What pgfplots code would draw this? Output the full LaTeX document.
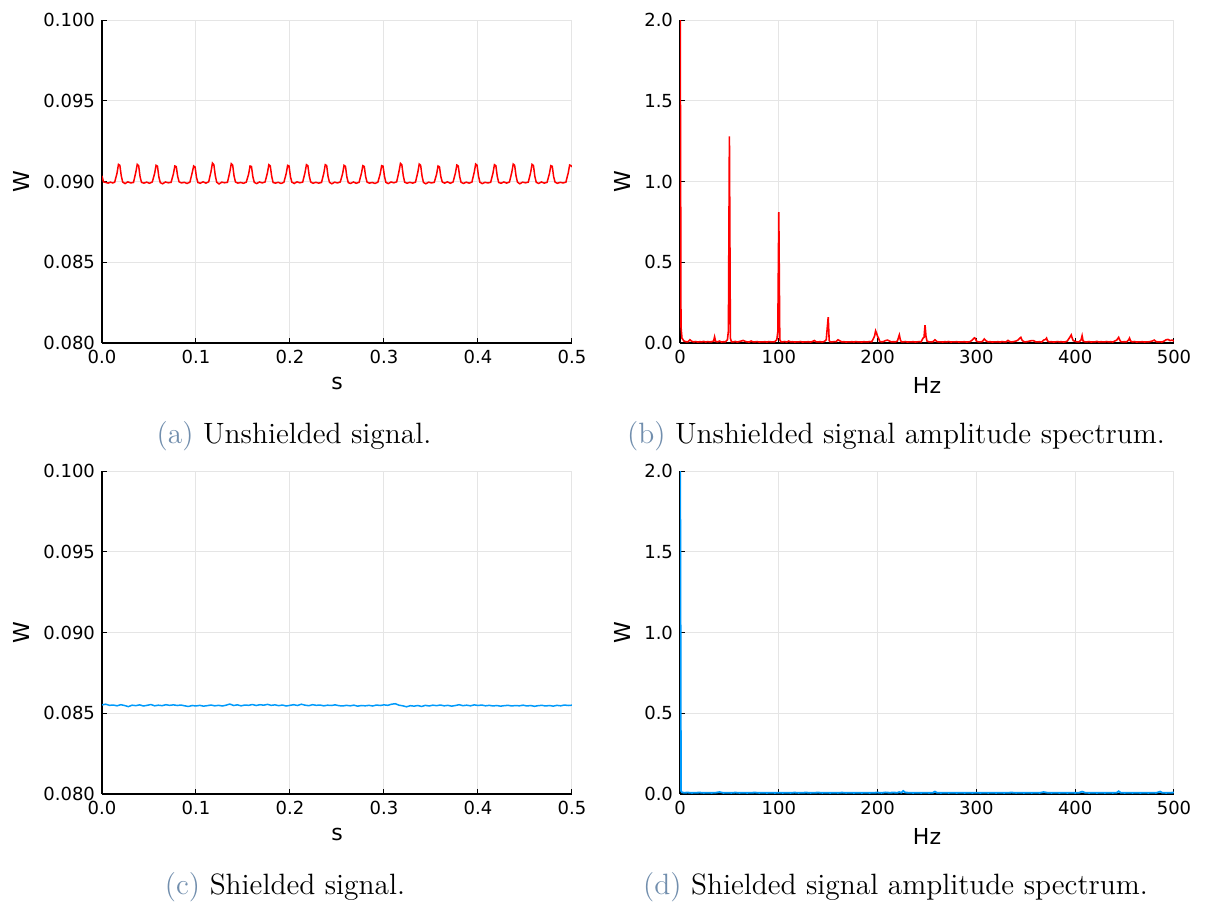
\documentclass[border=0pt]{standalone}
\usepackage{fontspec}
\usepackage{xcolor}
\usepackage{pgfplots}
\pgfplotsset{compat=1.18}
\newfontfamily\dejavu{DejaVu Sans}
\definecolor{grred}{RGB}{255,0,0}
\definecolor{grblue}{RGB}{0,154,250}
\definecolor{capblue}{RGB}{113,142,173}

\pgfplotsset{
  gr/.style={
    scale only axis,
    axis x line*=bottom,
    axis y line*=left,
    axis line style={black,line width=0.6pt,-},
    grid=major,
    grid style={black!10,line width=0.5pt},
    tick align=inside,
    major tick length=2.5pt,
    tick style={black,line width=0.5pt},
    tick label style={font=\dejavu\fontsize{9}{10}\selectfont},
    label style={font=\dejavu\fontsize{11}{12}\selectfont},
    /pgf/number format/assume math mode=true,
    scaled ticks=false,
    clip=true,
  },
  timeax/.style={gr,
    width=235pt, height=161.5pt,
    xmin=0, xmax=0.5, ymin=0.080, ymax=0.100,
    xtick={0,0.1,...,0.5}, ytick={0.080,0.085,0.090,0.095,0.100},
    xticklabel style={/pgf/number format/.cd,fixed,fixed zerofill,precision=1},
    yticklabel style={/pgf/number format/.cd,fixed,fixed zerofill,precision=3},
    xlabel={s}, ylabel={W},
  },
  specax/.style={gr,
    width=247pt, height=161.5pt,
    xmin=0, xmax=500, ymin=0, ymax=2,
    xtick={0,100,...,500}, ytick={0,0.5,1,1.5,2},
    yticklabel style={/pgf/number format/.cd,fixed,fixed zerofill,precision=1},
    xlabel={Hz}, ylabel={W},
  },
}

\begin{document}
\begin{tikzpicture}
\useasboundingbox (0,0) rectangle (602.5pt,451pt);

% (a) unshielded signal
\begin{axis}[timeax, at={(51pt,279.5pt)}, anchor=south west]
\addplot[grred, line width=0.75pt] coordinates {
(0,0.09035)(0.0015,0.08998)(0.004,0.08994)(0.0065,0.08990)(0.009,0.08996)(0.0115,0.08991)
(0.0135,0.08996)(0.016,0.09052)(0.0175,0.09106)(0.019,0.09100)(0.0205,0.09035)(0.022,0.08997)(0.0245,0.08987)(0.0275,0.08998)(0.0305,0.08991)
(0.0335,0.08994)(0.036,0.09058)(0.0375,0.09106)(0.039,0.09098)(0.0405,0.09030)(0.042,0.08995)(0.0445,0.08990)(0.0475,0.08996)(0.0505,0.08989)
(0.0535,0.08997)(0.056,0.09050)(0.0575,0.09100)(0.059,0.09095)(0.0605,0.09028)(0.062,0.08993)(0.0645,0.08986)(0.0675,0.08997)(0.0705,0.08992)
(0.0735,0.08995)(0.076,0.09048)(0.0775,0.09096)(0.079,0.09092)(0.0805,0.09032)(0.082,0.08998)(0.0845,0.08991)(0.0875,0.08995)(0.0905,0.08988)
(0.0935,0.08996)(0.096,0.09055)(0.0975,0.09096)(0.099,0.09090)(0.1005,0.09026)(0.102,0.08994)(0.1045,0.08989)(0.1075,0.08998)(0.1105,0.08990)
(0.1135,0.08998)(0.116,0.09062)(0.1175,0.09114)(0.119,0.09104)(0.1205,0.09038)(0.122,0.08996)(0.1245,0.08985)(0.1275,0.08996)(0.1305,0.08992)
(0.1335,0.08995)(0.136,0.09060)(0.1375,0.09110)(0.139,0.09102)(0.1405,0.09034)(0.142,0.08997)(0.1445,0.08990)(0.1475,0.08994)(0.1505,0.08989)
(0.1535,0.08996)(0.156,0.09046)(0.1575,0.09096)(0.159,0.09093)(0.1605,0.09030)(0.162,0.08995)(0.1645,0.08987)(0.1675,0.08997)(0.1705,0.08991)
(0.1735,0.08997)(0.176,0.09054)(0.1775,0.09104)(0.179,0.09097)(0.1805,0.09033)(0.182,0.08994)(0.1845,0.08990)(0.1875,0.08995)(0.1905,0.08988)
(0.1935,0.08995)(0.196,0.09050)(0.1975,0.09100)(0.199,0.09096)(0.2005,0.09029)(0.202,0.08996)(0.2045,0.08988)(0.2075,0.08998)(0.2105,0.08992)
(0.2135,0.08996)(0.216,0.09056)(0.2175,0.09104)(0.219,0.09098)(0.2205,0.09034)(0.222,0.08997)(0.2245,0.08989)(0.2275,0.08995)(0.2305,0.08990)
(0.2335,0.08994)(0.236,0.09052)(0.2375,0.09104)(0.239,0.09099)(0.2405,0.09031)(0.242,0.08995)(0.2445,0.08986)(0.2475,0.08996)(0.2505,0.08991)
(0.2535,0.08997)(0.256,0.09049)(0.2575,0.09100)(0.259,0.09094)(0.2605,0.09028)(0.262,0.08993)(0.2645,0.08988)(0.2675,0.08997)(0.2705,0.08989)
(0.2735,0.08995)(0.276,0.09051)(0.2775,0.09098)(0.279,0.09093)(0.2805,0.09030)(0.282,0.08996)(0.2845,0.08990)(0.2875,0.08994)(0.2905,0.08988)
(0.2935,0.08996)(0.296,0.09048)(0.2975,0.09098)(0.299,0.09095)(0.3005,0.09032)(0.302,0.08995)(0.3045,0.08987)(0.3075,0.08997)(0.3105,0.08992)
(0.3135,0.08998)(0.316,0.09064)(0.3175,0.09112)(0.319,0.09103)(0.3205,0.09036)(0.322,0.08996)(0.3245,0.08989)(0.3275,0.08995)(0.3305,0.08990)
(0.3335,0.08996)(0.336,0.09058)(0.3375,0.09108)(0.339,0.09100)(0.3405,0.09033)(0.342,0.08994)(0.3445,0.08986)(0.3475,0.08996)(0.3505,0.08991)
(0.3535,0.08995)(0.356,0.09046)(0.3575,0.09096)(0.359,0.09091)(0.3605,0.09029)(0.362,0.08997)(0.3645,0.08990)(0.3675,0.08998)(0.3705,0.08989)
(0.3735,0.08997)(0.376,0.09053)(0.3775,0.09102)(0.379,0.09096)(0.3805,0.09031)(0.382,0.08995)(0.3845,0.08988)(0.3875,0.08996)(0.3905,0.08990)
(0.3935,0.08996)(0.396,0.09057)(0.3975,0.09108)(0.399,0.09101)(0.4005,0.09035)(0.402,0.08996)(0.4045,0.08987)(0.4075,0.08995)(0.4105,0.08991)
(0.4135,0.08995)(0.416,0.09054)(0.4175,0.09104)(0.419,0.09098)(0.4205,0.09032)(0.422,0.08994)(0.4245,0.08989)(0.4275,0.08997)(0.4305,0.08990)
(0.4335,0.08997)(0.436,0.09058)(0.4375,0.09108)(0.439,0.09100)(0.4405,0.09034)(0.442,0.08996)(0.4445,0.08986)(0.4475,0.08996)(0.4505,0.08992)
(0.4535,0.08996)(0.456,0.09055)(0.4575,0.09106)(0.459,0.09099)(0.4605,0.09031)(0.462,0.08995)(0.4645,0.08988)(0.4675,0.08997)(0.4705,0.08990)
(0.4735,0.08995)(0.476,0.09049)(0.4775,0.09098)(0.479,0.09094)(0.4805,0.09029)(0.482,0.08996)(0.4845,0.08989)(0.4875,0.08995)(0.4905,0.08991)
(0.4935,0.08996)(0.496,0.09053)(0.4975,0.09102)(0.499,0.09098)(0.5,0.09090)
};
\end{axis}

% (b) unshielded spectrum
\begin{axis}[specax, at={(340pt,279.5pt)}, anchor=south west]
\addplot[grred, line width=0.8pt] coordinates {
(0,2.6)(1,0.10)(2,0.03)(4,0.012)(6,0.008)(8,0.007)(10,0.02)(12,0.01)(14,0.007)(16,0.009)
(18,0.006)(20,0.008)(22,0.007)(24,0.01)(26,0.006)(28,0.009)(30,0.007)(32,0.008)(34,0.012)(35,0.038)
(36,0.01)(38,0.007)(40,0.012)(42,0.006)(44,0.008)(46,0.007)(48,0.02)(49,0.075)(50,1.28)(51,0.03)
(52,0.008)(54,0.007)(56,0.01)(58,0.006)(60,0.009)(62,0.012)(64,0.016)(66,0.01)(68,0.007)(70,0.006)
(72,0.012)(74,0.007)(76,0.007)(78,0.009)(80,0.006)(82,0.007)(84,0.007)(86,0.008)(88,0.006)(90,0.009)
(92,0.007)(94,0.007)(96,0.008)(98,0.02)(99,0.07)(100,0.81)(101,0.02)(102,0.008)(104,0.007)(106,0.009)
(108,0.006)(110,0.012)(112,0.007)(114,0.008)(116,0.006)(118,0.007)(120,0.007)(122,0.009)(124,0.006)(126,0.007)
(128,0.007)(130,0.008)(132,0.006)(134,0.009)(136,0.015)(138,0.007)(140,0.007)(142,0.008)(144,0.006)(146,0.009)
(148,0.02)(150,0.16)(151,0.015)(152,0.007)(154,0.007)(156,0.009)(158,0.008)(160,0.02)(162,0.012)(164,0.007)
(166,0.008)(168,0.006)(170,0.007)(172,0.007)(174,0.008)(176,0.006)(178,0.009)(180,0.007)(182,0.007)(184,0.006)
(186,0.008)(188,0.007)(190,0.007)(192,0.009)(194,0.007)(196,0.03)(197,0.045)(198,0.075)(199,0.06)(200,0.04)
(201,0.03)(202,0.01)(204,0.007)(206,0.009)(208,0.015)(210,0.018)(212,0.012)(214,0.007)(216,0.008)(218,0.007)
(220,0.012)(222,0.05)(223,0.02)(224,0.008)(226,0.007)(228,0.009)(230,0.006)(232,0.007)(234,0.007)(236,0.008)
(238,0.006)(240,0.007)(242,0.009)(244,0.007)(246,0.03)(247,0.035)(248,0.111)(249,0.04)(250,0.012)(252,0.007)
(254,0.007)(256,0.008)(258,0.02)(260,0.009)(262,0.007)(264,0.007)(266,0.006)(268,0.008)(270,0.007)(272,0.009)
(274,0.006)(276,0.007)(278,0.007)(280,0.008)(282,0.006)(284,0.007)(286,0.007)(288,0.008)(290,0.006)(292,0.007)
(294,0.009)(296,0.02)(298,0.032)(299,0.028)(300,0.012)(302,0.007)(304,0.007)(306,0.009)(308,0.025)(310,0.012)
(312,0.007)(314,0.008)(316,0.006)(318,0.007)(320,0.007)(322,0.008)(324,0.006)(326,0.009)(328,0.007)(330,0.007)
(332,0.016)(334,0.008)(336,0.007)(338,0.009)(340,0.012)(342,0.018)(344,0.03)(345,0.035)(346,0.02)(348,0.008)
(350,0.007)(352,0.009)(354,0.012)(356,0.015)(358,0.014)(360,0.007)(362,0.007)(364,0.008)(366,0.006)(368,0.018)
(370,0.022)(371,0.03)(372,0.012)(374,0.007)(376,0.008)(378,0.006)(380,0.007)(382,0.009)(384,0.007)(386,0.008)
(388,0.006)(390,0.007)(392,0.012)(394,0.03)(396,0.05)(397,0.03)(398,0.015)(400,0.01)(402,0.007)(404,0.007)
(406,0.02)(407,0.045)(408,0.012)(410,0.007)(412,0.007)(414,0.009)(416,0.006)(418,0.007)(420,0.007)(422,0.01)
(424,0.006)(426,0.008)(428,0.007)(430,0.007)(432,0.009)(434,0.007)(436,0.008)(438,0.006)(440,0.012)(442,0.018)
(444,0.035)(445,0.02)(446,0.009)(448,0.007)(450,0.008)(452,0.007)(454,0.018)(455,0.03)(456,0.012)(458,0.007)
(460,0.009)(462,0.006)(464,0.007)(466,0.007)(468,0.008)(470,0.006)(472,0.007)(474,0.007)(476,0.009)(478,0.012)
(480,0.018)(482,0.008)(484,0.007)(486,0.007)(488,0.006)(490,0.012)(492,0.02)(494,0.022)(496,0.015)(498,0.018)
(500,0.012)
};
\end{axis}

% (c) shielded signal
\begin{axis}[timeax, at={(51pt,54pt)}, anchor=south west]
\addplot[grblue, line width=0.75pt] coordinates {
(0,0.08552)(0.004,0.08556)(0.008,0.08549)(0.012,0.08551)(0.016,0.08546)(0.020,0.08553)(0.024,0.08548)(0.028,0.08541)
(0.032,0.08550)(0.036,0.08547)(0.040,0.08552)(0.044,0.08545)(0.048,0.08549)(0.052,0.08554)(0.056,0.08546)(0.060,0.08550)
(0.064,0.08547)(0.068,0.08553)(0.072,0.08549)(0.076,0.08552)(0.080,0.08548)(0.084,0.08551)(0.088,0.08546)(0.092,0.08542)
(0.096,0.08548)(0.100,0.08545)(0.104,0.08549)(0.108,0.08544)(0.112,0.08547)(0.116,0.08551)(0.120,0.08546)(0.124,0.08549)
(0.128,0.08545)(0.132,0.08550)(0.136,0.08557)(0.140,0.08548)(0.144,0.08552)(0.148,0.08546)(0.152,0.08551)(0.156,0.08549)
(0.160,0.08554)(0.164,0.08548)(0.168,0.08553)(0.172,0.08550)(0.176,0.08555)(0.180,0.08549)(0.184,0.08552)(0.188,0.08547)
(0.192,0.08551)(0.196,0.08545)(0.200,0.08549)(0.204,0.08553)(0.208,0.08548)(0.212,0.08556)(0.216,0.08550)(0.220,0.08547)
(0.224,0.08553)(0.228,0.08549)(0.232,0.08551)(0.236,0.08546)(0.240,0.08550)(0.244,0.08548)(0.248,0.08552)(0.252,0.08547)
(0.256,0.08545)(0.260,0.08549)(0.264,0.08546)(0.268,0.08550)(0.272,0.08544)(0.276,0.08548)(0.280,0.08546)(0.284,0.08549)
(0.288,0.08545)(0.292,0.08551)(0.296,0.08548)(0.300,0.08552)(0.304,0.08549)(0.308,0.08556)(0.312,0.08559)(0.316,0.08550)
(0.320,0.08546)(0.324,0.08540)(0.328,0.08547)(0.332,0.08544)(0.336,0.08548)(0.340,0.08542)(0.344,0.08549)(0.348,0.08545)
(0.352,0.08550)(0.356,0.08547)(0.360,0.08551)(0.364,0.08546)(0.368,0.08549)(0.372,0.08544)(0.376,0.08548)(0.380,0.08553)
(0.384,0.08547)(0.388,0.08550)(0.392,0.08546)(0.396,0.08552)(0.400,0.08548)(0.404,0.08551)(0.408,0.08546)(0.412,0.08549)
(0.416,0.08545)(0.420,0.08548)(0.424,0.08544)(0.428,0.08547)(0.432,0.08549)(0.436,0.08545)(0.440,0.08548)(0.444,0.08546)
(0.448,0.08550)(0.452,0.08545)(0.456,0.08548)(0.460,0.08543)(0.464,0.08547)(0.468,0.08549)(0.472,0.08545)(0.476,0.08548)
(0.480,0.08544)(0.484,0.08549)(0.488,0.08546)(0.492,0.08551)(0.496,0.08548)(0.500,0.08550)
};
\end{axis}

% (d) shielded spectrum
\begin{axis}[specax, at={(340pt,54pt)}, anchor=south west]
\addplot[grblue, line width=0.9pt] coordinates {
(0,2.6)(1,0.02)(2,0.010)(4,0.008)(8,0.009)(12,0.007)(16,0.008)(20,0.009)(24,0.007)(28,0.008)
(32,0.007)(36,0.008)(40,0.012)(44,0.007)(48,0.008)(52,0.007)(56,0.009)(60,0.007)(64,0.008)(68,0.007)
(72,0.008)(76,0.009)(80,0.007)(84,0.008)(88,0.007)(92,0.008)(96,0.007)(100,0.008)(104,0.007)(108,0.008)
(112,0.007)(116,0.009)(120,0.007)(124,0.008)(128,0.009)(132,0.007)(136,0.008)(140,0.009)(144,0.007)(148,0.008)
(152,0.007)(156,0.008)(160,0.007)(164,0.009)(168,0.007)(172,0.008)(176,0.007)(180,0.008)(184,0.007)(188,0.008)
(192,0.007)(196,0.008)(200,0.009)(204,0.007)(208,0.010)(212,0.008)(216,0.009)(220,0.008)(222,0.012)(224,0.008)
(226,0.019)(228,0.009)(232,0.008)(236,0.007)(240,0.008)(244,0.007)(248,0.008)(252,0.007)(256,0.008)(258,0.015)
(260,0.008)(264,0.007)(268,0.008)(272,0.007)(276,0.008)(280,0.007)(284,0.008)(288,0.007)(292,0.008)(296,0.007)
(300,0.008)(304,0.007)(308,0.008)(312,0.007)(316,0.008)(320,0.007)(324,0.008)(328,0.007)(332,0.008)(336,0.009)
(340,0.007)(344,0.008)(348,0.007)(352,0.008)(356,0.007)(360,0.008)(364,0.007)(368,0.012)(372,0.008)(376,0.007)
(380,0.008)(384,0.007)(388,0.008)(392,0.007)(396,0.008)(400,0.007)(404,0.008)(407,0.015)(410,0.008)(414,0.007)
(418,0.008)(422,0.007)(426,0.008)(430,0.007)(434,0.008)(438,0.007)(442,0.008)(444,0.017)(446,0.008)(450,0.007)
(454,0.008)(458,0.007)(462,0.008)(466,0.007)(470,0.008)(474,0.007)(478,0.008)(482,0.007)(486,0.015)(488,0.008)
(492,0.007)(496,0.008)(500,0.009)
};
\end{axis}

% captions
\node[anchor=base, font=\fontsize{14.7}{17}\selectfont] at (147pt,229.5pt) {\textcolor{capblue}{(a)} Unshielded signal.};
\node[anchor=base, font=\fontsize{14.7}{17}\selectfont] at (448pt,229.5pt) {\textcolor{capblue}{(b)} Unshielded signal amplitude spectrum.};
\node[anchor=base, font=\fontsize{14.7}{17}\selectfont] at (142.5pt,4pt) {\textcolor{capblue}{(c)} Shielded signal.};
\node[anchor=base, font=\fontsize{14.7}{17}\selectfont] at (447.75pt,4pt) {\textcolor{capblue}{(d)} Shielded signal amplitude spectrum.};
\end{tikzpicture}
\end{document}
